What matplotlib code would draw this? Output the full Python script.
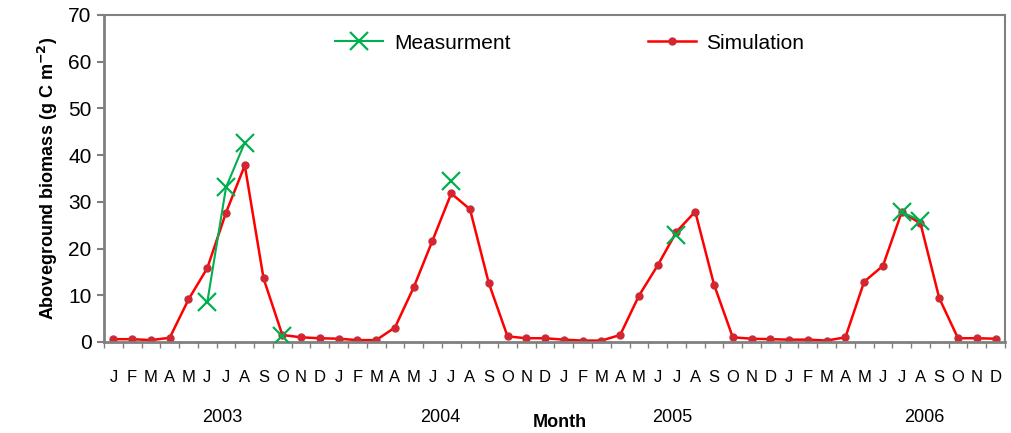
import numpy as np
import matplotlib
matplotlib.use("Agg")
import matplotlib.pyplot as plt
from matplotlib import transforms

plt.rcParams['font.family'] = ['Liberation Sans', 'DejaVu Sans']

months = ['J', 'F', 'M', 'A', 'M', 'J', 'J', 'A', 'S', 'O', 'N', 'D'] * 4
years = ['2003', '2004', '2005', '2006']

simulation = [0.6, 0.6, 0.4, 0.9, 9.1, 15.8, 27.7, 37.8, 13.6, 1.5, 1.0, 0.8,
              0.7, 0.4, 0.4, 3.1, 11.7, 21.7, 31.8, 28.4, 12.6, 1.2, 0.8, 0.8,
              0.5, 0.3, 0.3, 1.5, 9.9, 16.4, 23.6, 27.9, 12.3, 1.0, 0.7, 0.6,
              0.5, 0.5, 0.3, 1.0, 12.9, 16.3, 27.8, 25.4, 9.4, 0.8, 0.8, 0.7]

nan = np.nan
measurement = [nan, nan, nan, nan, nan, 8.5, 33.1, 42.7, nan, 1.2, nan, nan,
               nan, nan, nan, nan, nan, nan, 34.5, nan, nan, nan, nan, nan,
               nan, nan, nan, nan, nan, nan, 22.9, nan, nan, nan, nan, nan,
               nan, nan, nan, nan, nan, nan, 27.8, 26.0, nan, nan, nan, nan]

x = np.arange(len(months))

fig = plt.figure(figsize=(10.12, 4.33), dpi=100)
ax = fig.add_axes([0.1028, 0.2102, 0.8902, 0.7552])

ax.plot(x, measurement, color='#00B050', lw=1.5, marker='x', ms=13, mew=1.6,
        label='Measurment', zorder=3)
ax.plot(x, simulation, color='#FF0000', lw=1.8, marker='o', ms=5,
        mfc='#E0202A', mec='#C0303A', label='Simulation', zorder=2)

ax.set_xlim(-0.5, 47.5)
ax.set_ylim(0, 70)
ax.set_yticks(range(0, 71, 10))
ax.tick_params(axis='y', labelsize=15, length=5, width=1.5, color='#808080',
               direction='out', pad=4)

ax.set_xticks(np.arange(-0.5, 48, 1))
ax.set_xticklabels([])
ax.tick_params(axis='x', which='major', length=4, width=1, color='#808080',
               direction='out')
ax.set_xticks(x, minor=True)
ax.set_xticklabels(months, minor=True)
ax.tick_params(axis='x', which='minor', length=0, labelsize=12, pad=20)

for s in ax.spines.values():
    s.set_color('#808080')
    s.set_linewidth(1.5)
ax.spines['bottom'].set_linewidth(2)
ax.spines['left'].set_linewidth(2)

ax.set_ylabel('Aboveground biomass (g C m$^{\\mathbf{-2}}$)', fontsize=13,
              fontweight='bold', labelpad=6)

trans = transforms.blended_transform_factory(ax.transData, fig.transFigure)
year_pos = [5.8, 17.4, 29.8, 43.2]
for xp, yr in zip(year_pos, years):
    ax.text(xp, 0.035, yr, transform=trans, ha='center', va='center', fontsize=13)
ax.text(23.8, 0.025, 'Month', transform=trans, ha='center', va='center',
        fontsize=13, fontweight='bold')

ax.legend(loc='upper center', bbox_to_anchor=(0.517, 1.0), ncol=2, frameon=False,
          fontsize=15, columnspacing=6.6, handlelength=2.3, handletextpad=0.5)

fig.savefig('out.png', dpi=100)
